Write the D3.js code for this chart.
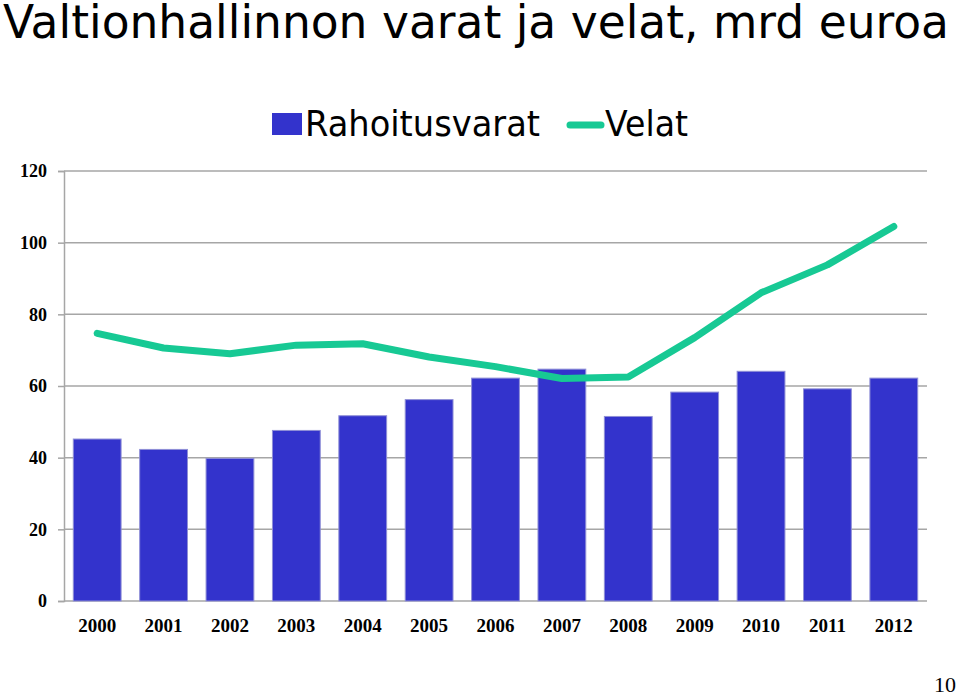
<!DOCTYPE html>
<html>
<head>
<meta charset="utf-8">
<script src="https://cdn.jsdelivr.net/npm/d3@7"></script>
<style>
  body { margin: 0; background: #fff; }
  svg { display: block; }
</style>
</head>
<body>
<div id="chart"></div>
<script>
// data
var years = ["2000", "2001", "2002", "2003", "2004", "2005", "2006", "2007", "2008", "2009", "2010", "2011", "2012"];
var rahoitusvarat = [45.2, 42.3, 39.8, 47.6, 51.7, 56.2, 62.2, 64.7, 51.5, 58.3, 64.1, 59.2, 62.2];
var velat = [74.7, 70.6, 69.0, 71.4, 71.8, 68.1, 65.4, 62.1, 62.5, 73.5, 86.0, 93.8, 104.5];
var yTicks = [0, 20, 40, 60, 80, 100, 120];

var W = 960, H = 696;
var margin = { top: 171, right: 33, bottom: 95, left: 64 },
    width = W - margin.left - margin.right,
    height = H - margin.top - margin.bottom;

var svg = d3.select("#chart")
    .append("svg")
    .attr("width", W)
    .attr("height", H);

// title (Tahoma-like, stretched to the same width as the original)
svg.append("text")
    .attr("x", 3)
    .attr("y", 38)
    .attr("textLength", 946)
    .attr("lengthAdjust", "spacingAndGlyphs")
    .style("font-family", "DejaVu Sans, Verdana, sans-serif")
    .style("font-size", "47px")
    .style("fill", "#000")
    .text("Valtionhallinnon varat ja velat, mrd euroa");

var g = svg.append("g")
    .attr("transform", "translate(" + margin.left + "," + margin.top + ")");

var x = d3.scaleBand()
    .domain(years)
    .range([0, width])
    .paddingInner(0.28)
    .paddingOuter(0.14);

var y = d3.scaleLinear()
    .domain([0, 120])
    .range([height, 0]);

// gridlines
g.append("g")
    .selectAll("line")
    .data(yTicks)
    .enter()
    .append("line")
    .attr("x1", 0)
    .attr("x2", width)
    .attr("y1", function (d) { return y(d); })
    .attr("y2", function (d) { return y(d); })
    .style("stroke", "#a6a6a6")
    .style("stroke-width", 1.5);

// y axis
var yAxis = g.append("g")
    .call(d3.axisLeft(y).tickValues(yTicks).tickSize(6).tickPadding(11).tickFormat(d3.format("d")));
yAxis.select(".domain").style("stroke", "#a6a6a6").style("stroke-width", 1.5);
yAxis.selectAll(".tick line").style("stroke", "#a6a6a6").style("stroke-width", 1.5);
yAxis.selectAll("text")
    .style("font-family", "Liberation Serif, Times New Roman, serif")
    .style("font-weight", "bold")
    .style("font-size", "18px")
    .style("fill", "#000");

// bars
g.selectAll(".bar")
    .data(rahoitusvarat)
    .enter()
    .append("rect")
    .attr("class", "bar")
    .attr("x", function (d, i) { return x(years[i]); })
    .attr("y", function (d) { return y(d); })
    .attr("width", x.bandwidth())
    .attr("height", function (d) { return height - y(d); })
    .style("fill", "#3333cc")
    .style("stroke", "#8f8fd6")
    .style("stroke-width", 1);

// line
var line = d3.line()
    .x(function (d, i) { return x(years[i]) + x.bandwidth() / 2; })
    .y(function (d) { return y(d); });

g.append("path")
    .datum(velat)
    .attr("d", line)
    .style("fill", "none")
    .style("stroke", "#17c994")
    .style("stroke-width", 7)
    .style("stroke-linecap", "round")
    .style("stroke-linejoin", "round");

// x labels
g.append("g")
    .selectAll("text")
    .data(years)
    .enter()
    .append("text")
    .attr("x", function (d) { return x(d) + x.bandwidth() / 2; })
    .attr("y", height + 31)
    .attr("text-anchor", "middle")
    .style("font-family", "Liberation Serif, Times New Roman, serif")
    .style("font-weight", "bold")
    .style("font-size", "19px")
    .text(function (d) { return d; });

// legend
var legend = svg.append("g");
legend.append("rect")
    .attr("x", 272).attr("y", 113)
    .attr("width", 30).attr("height", 22)
    .style("fill", "#3333cc");
legend.append("text")
    .attr("x", 305).attr("y", 136)
    .attr("textLength", 235)
    .attr("lengthAdjust", "spacingAndGlyphs")
    .style("font-family", "DejaVu Sans, Verdana, sans-serif")
    .style("font-size", "36px")
    .text("Rahoitusvarat");
legend.append("line")
    .attr("x1", 570).attr("x2", 601)
    .attr("y1", 125).attr("y2", 125)
    .style("stroke", "#17c994")
    .style("stroke-width", 7)
    .style("stroke-linecap", "round");
legend.append("text")
    .attr("x", 605).attr("y", 136)
    .attr("textLength", 83)
    .attr("lengthAdjust", "spacingAndGlyphs")
    .style("font-family", "DejaVu Sans, Verdana, sans-serif")
    .style("font-size", "36px")
    .text("Velat");

// page number
svg.append("text")
    .attr("x", 956).attr("y", 692)
    .attr("text-anchor", "end")
    .style("font-family", "Liberation Serif, Times New Roman, serif")
    .style("font-size", "22px")
    .text("10");
</script>
</body>
</html>
